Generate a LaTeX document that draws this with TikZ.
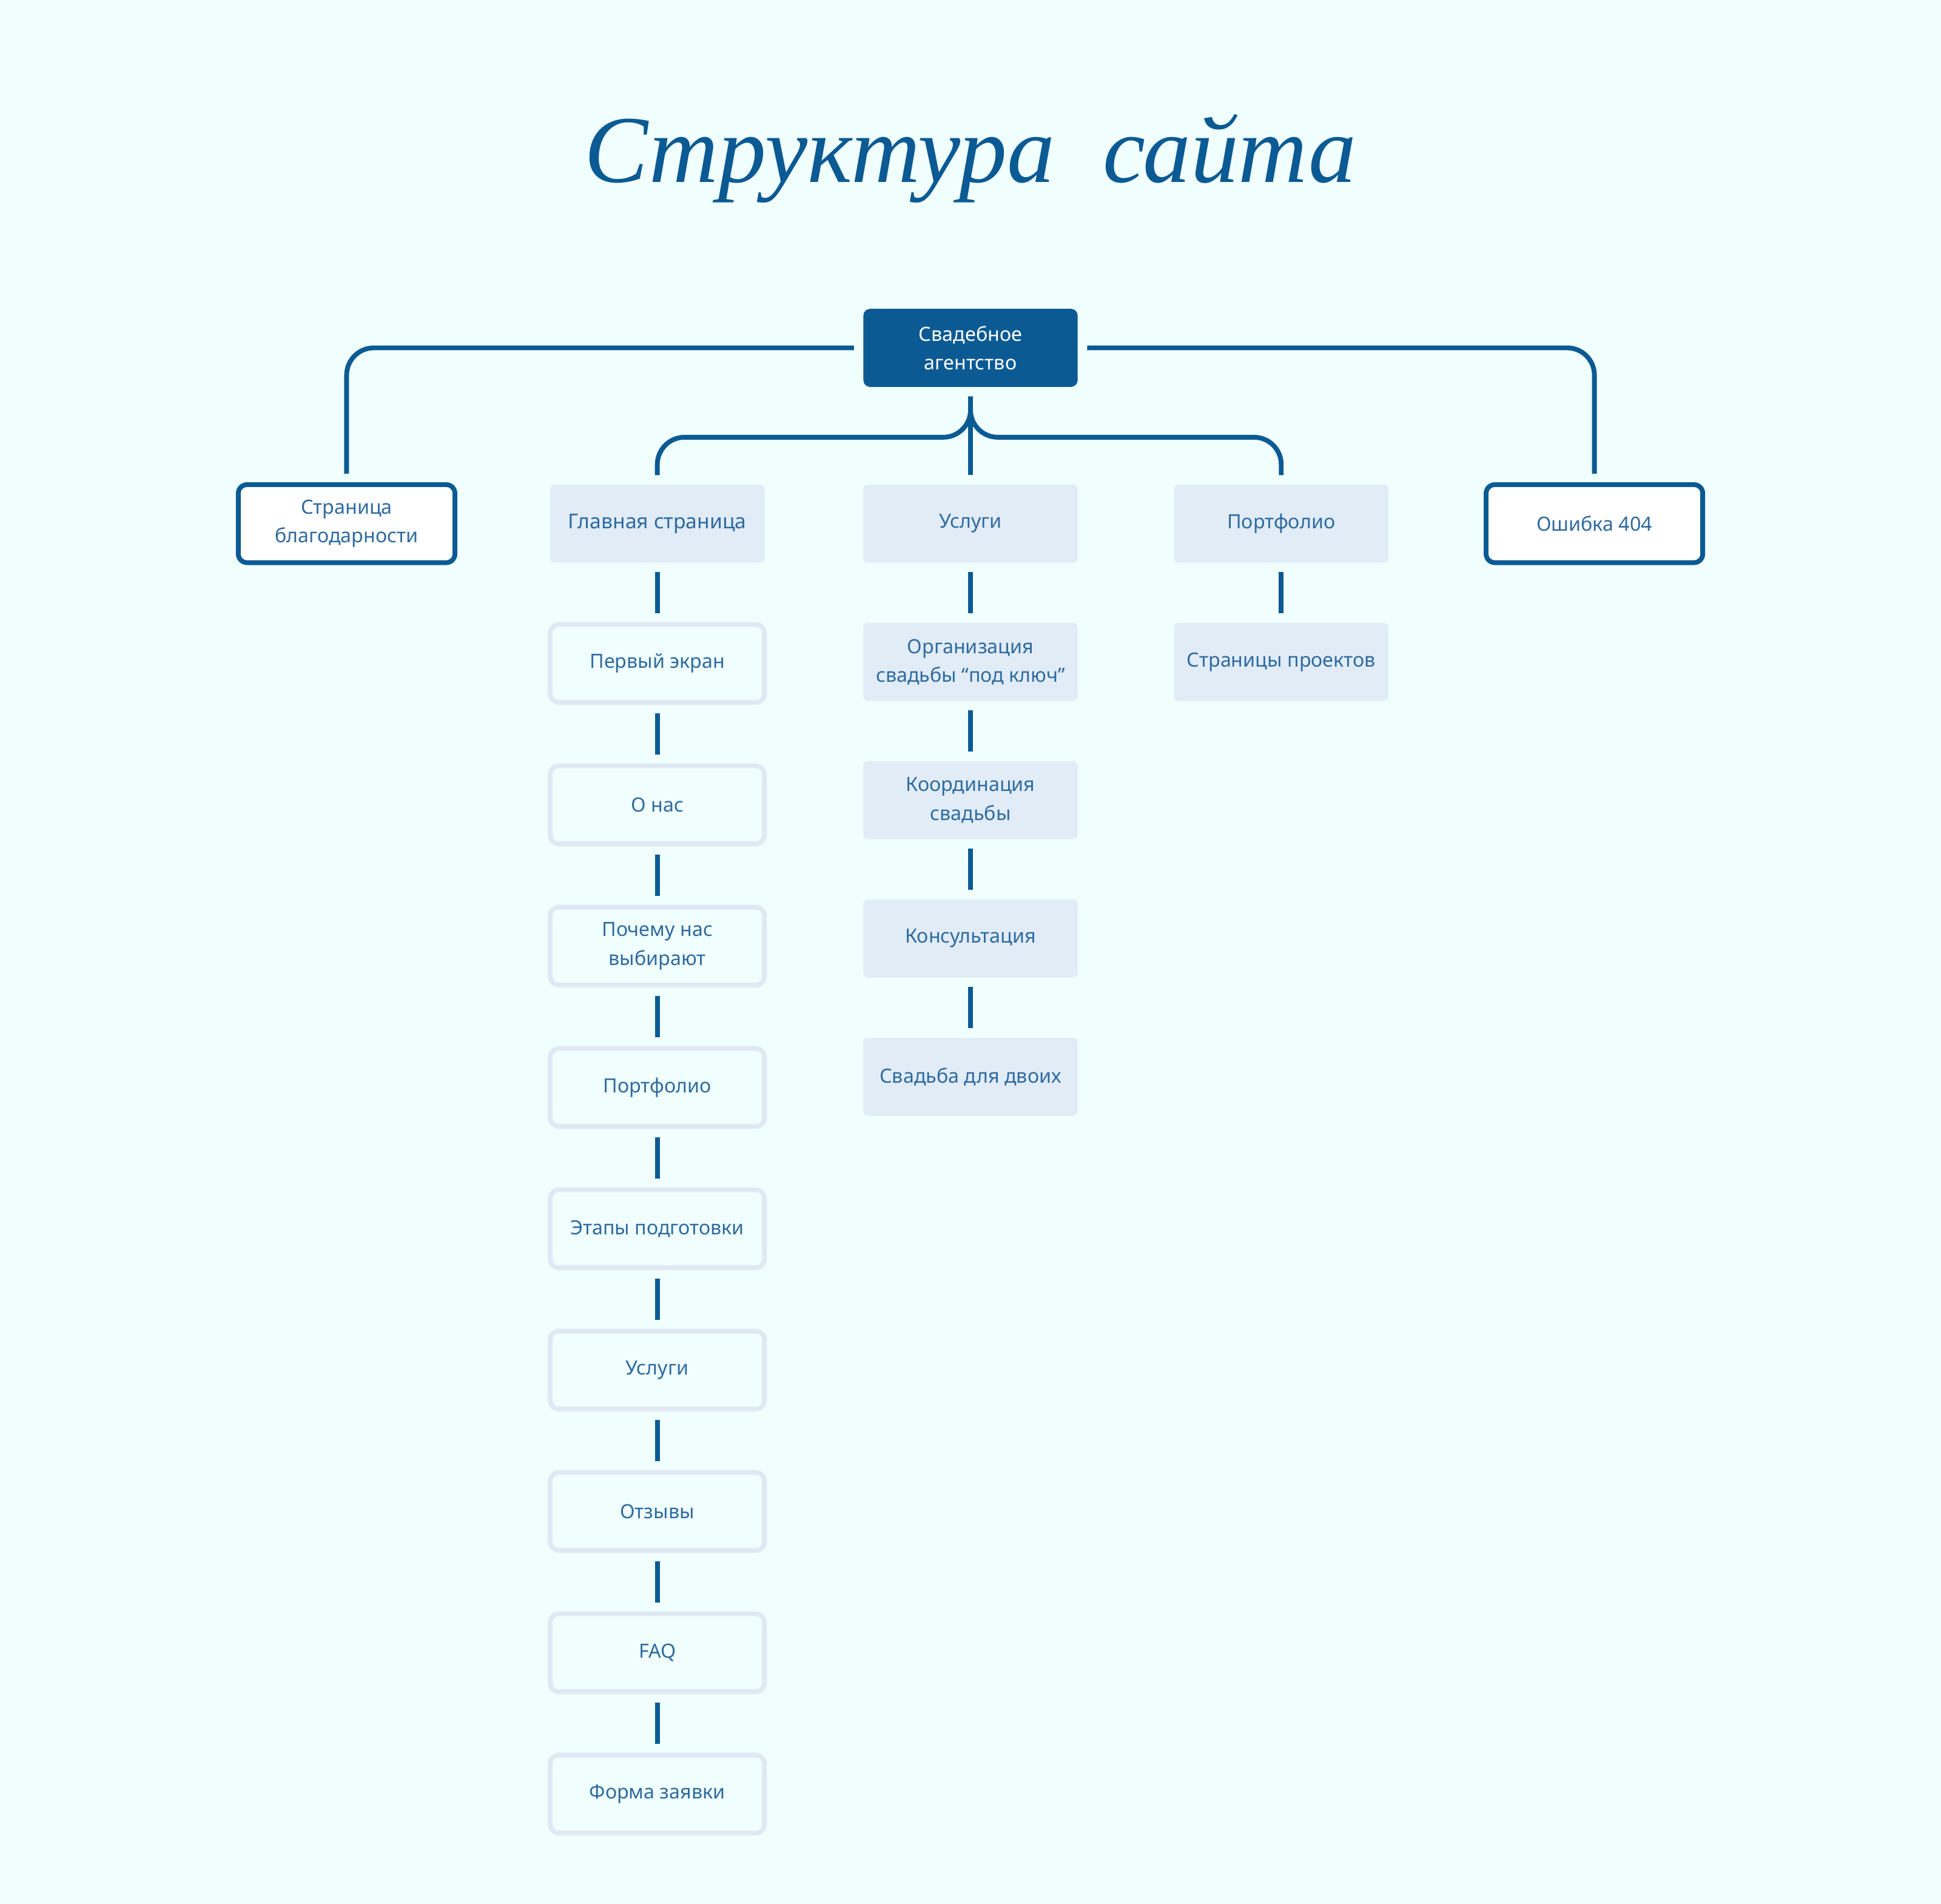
\documentclass[tikz,border=0pt]{standalone}
\usepackage{fontspec}
\setmainfont{Noto Sans}
\newfontfamily\titlefont{Liberation Serif}
\usetikzlibrary{positioning,calc}
\definecolor{bgc}{HTML}{F0FFFD}
\definecolor{darkblue}{HTML}{0B5A94}
\definecolor{lightbox}{HTML}{E1ECF7}
\definecolor{lightline}{HTML}{E0E8F4}
\definecolor{txt}{HTML}{2E6AA0}
\tikzset{base/.style={minimum width=1.73cm, minimum height=0.63cm, align=center, text=txt, font=\fontsize{4.5}{6.6}\selectfont, inner sep=1pt}}
\tikzset{rootbox/.style={base, fill=darkblue, text=white, rounded corners=1.5pt}}
\tikzset{sidebox/.style={base, draw=darkblue, line width=1.1pt, fill=white, rounded corners=2pt}}
\tikzset{pagebox/.style={base, draw=lightline, line width=1.1pt, fill=bgc, rounded corners=2pt}}
\tikzset{filledbox/.style={base, fill=lightbox, rounded corners=1pt}}
\tikzset{link/.style={draw=darkblue, line width=1.1pt, rounded corners=0.22cm, shorten <=0.07cm, shorten >=0.07cm}}
\begin{document}
\begin{tikzpicture}
\fill[bgc] (0,0) rectangle (15.68,-15.38);
\node[text=darkblue, font=\titlefont\itshape\fontsize{22}{26}\selectfont] (title) at (7.84,-1.28) {Структура\enspace сайта};
\node[rootbox] (root) at (7.84,-2.81) {Свадебное\\агентство};
\node[sidebox, minimum width=1.75cm] (thanks) at (2.80,-4.23) {Страница\\благодарности};
\node[filledbox, font=\fontsize{4.7}{6.6}\selectfont\bfseries] (main) at (5.31,-4.23) {\fontseries{m}\selectfont Главная страница};
\node[filledbox] (serv) at (7.84,-4.23) {Услуги};
\node[filledbox] (port) at (10.35,-4.23) {Портфолио};
\node[sidebox, minimum width=1.75cm] (err) at (12.88,-4.23) {Ошибка 404};
% main page blocks
\foreach \name/\label [remember=\name as \prev (initially main)] in
  {m1/Первый экран, m2/О нас, m3/{Почему нас\\выбирают}, m4/Портфолио,
   m5/Этапы подготовки, m6/Услуги, m7/Отзывы, m8/FAQ, m9/Форма заявки}
{
  \node[pagebox, below=0.473cm of \prev] (\name) {\label};
  \draw[link] (\prev) -- (\name);
}
% services
\node[filledbox, below=0.473cm of serv] (s1) {Организация\\свадьбы “под ключ”};
\node[filledbox, below=0.473cm of s1] (s2) {Координация\\свадьбы};
\node[filledbox, below=0.473cm of s2] (s3) {Консультация};
\node[filledbox, below=0.473cm of s3] (s4) {\raisebox{-0.8ex}{Свадьба для двоих}};
\draw[link] (serv) -- (s1);
\draw[link] (s1) -- (s2);
\draw[link] (s2) -- (s3);
\draw[link] (s3) -- (s4);
% portfolio
\node[filledbox, below=0.473cm of port] (p1) {Страницы проектов};
\draw[link] (port) -- (p1);
% top connectors
\draw[link] (root.west) -| (thanks.north);
\draw[link] (root.east) -| (err.north);
\coordinate (split) at ([yshift=-0.4cm]root.south);
\draw[link] (root.south) -- (split) -| (main.north);
\draw[link] (root.south) -- (split) -| (port.north);
\draw[link] (root.south) -- (serv.north);
\end{tikzpicture}
\end{document}
